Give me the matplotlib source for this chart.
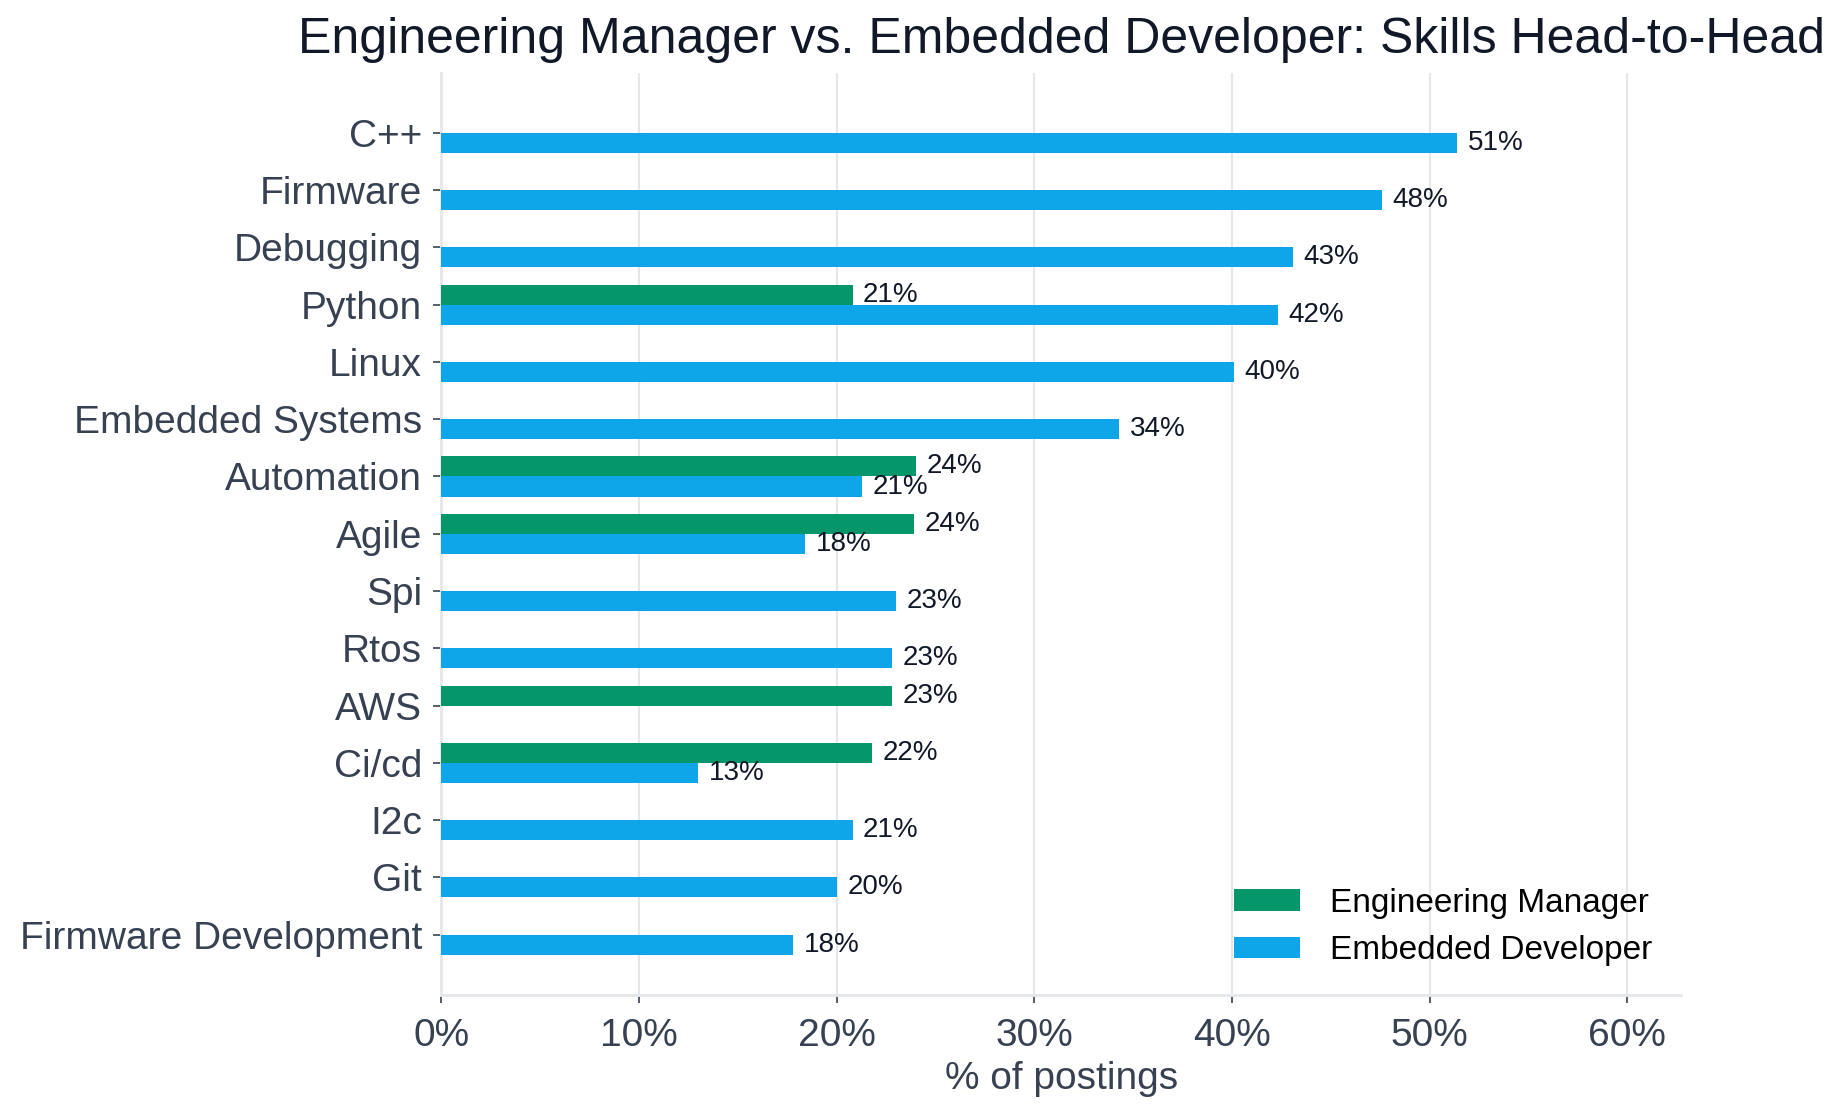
import numpy as np
import matplotlib
matplotlib.use("Agg")
import matplotlib.pyplot as plt
from matplotlib.ticker import FuncFormatter

skills = ["C++", "Firmware", "Debugging", "Python", "Linux", "Embedded Systems",
          "Automation", "Agile", "Spi", "Rtos", "AWS", "Ci/cd", "I2c", "Git",
          "Firmware Development"]
manager = [0, 0, 0, 20.8, 0, 0, 24.0, 23.9, 0, 0, 22.8, 21.8, 0, 0, 0]
embedded = [51.4, 47.6, 43.1, 42.3, 40.1, 34.3, 21.3, 18.4, 23.0, 22.8, 0, 13.0, 20.8, 20.0, 17.8]
series_names = ["Engineering Manager", "Embedded Developer"]

GREEN = "#059669"
BLUE = "#0ea5e9"

plt.rcParams["font.family"] = ["Liberation Sans", "DejaVu Sans"]

fig, ax = plt.subplots(figsize=(18.47, 11.19), dpi=100)
fig.subplots_adjust(left=0.239, right=0.910, top=0.935, bottom=0.111)

y = np.arange(len(skills))
h = 0.35
man = np.array(manager)
emb = np.array(embedded)

mask_m = man > 0
mask_e = emb > 0
ax.barh(y[mask_m] - h / 2, man[mask_m], height=h, color=GREEN, label=series_names[0], zorder=3)
ax.barh(y[mask_e] + h / 2, emb[mask_e], height=h, color=BLUE, label=series_names[1], zorder=3)

for yi, v in zip(y[mask_m], man[mask_m]):
    ax.annotate(f"{v:.0f}%", (v, yi - h / 2), xytext=(7.5, 0), textcoords="offset points",
                va="center", ha="left", fontsize=20, color="#111827", zorder=4)
for yi, v in zip(y[mask_e], emb[mask_e]):
    ax.annotate(f"{v:.0f}%", (v, yi + h / 2), xytext=(7.5, 0), textcoords="offset points",
                va="center", ha="left", fontsize=20, color="#111827", zorder=4)

ax.set_yticks(y)
ax.set_yticklabels(skills)
ax.set_ylim(15.05, -1.05)
ax.set_xlim(0, 62.7)
ax.set_xticks(np.arange(0, 61, 10))
ax.xaxis.set_major_formatter(FuncFormatter(lambda v, p: f"{v:.0f}%"))

ax.tick_params(axis="both", labelsize=28, colors="#374151", length=6, width=1.2)
ax.tick_params(axis="y", pad=8)
ax.tick_params(axis="x", pad=11)
ax.grid(axis="x", color="#e5e7eb", linewidth=1.5, zorder=0)
ax.set_axisbelow(True)
for s in ["top", "right"]:
    ax.spines[s].set_visible(False)
for s in ["left", "bottom"]:
    ax.spines[s].set_color("#e5e7eb")
    ax.spines[s].set_linewidth(2)

ax.set_xlabel("% of postings", fontsize=28, color="#374151", labelpad=5)
ax.set_title("Engineering Manager vs. Embedded Developer: Skills Head-to-Head",
             fontsize=36, color="#111827", pad=14)

leg = ax.legend(loc="lower right", frameon=False, fontsize=24, handlelength=2.0,
                handleheight=0.6, borderaxespad=0.45, labelspacing=0.5, handletextpad=0.9)

fig.savefig("out.png", dpi=100)
